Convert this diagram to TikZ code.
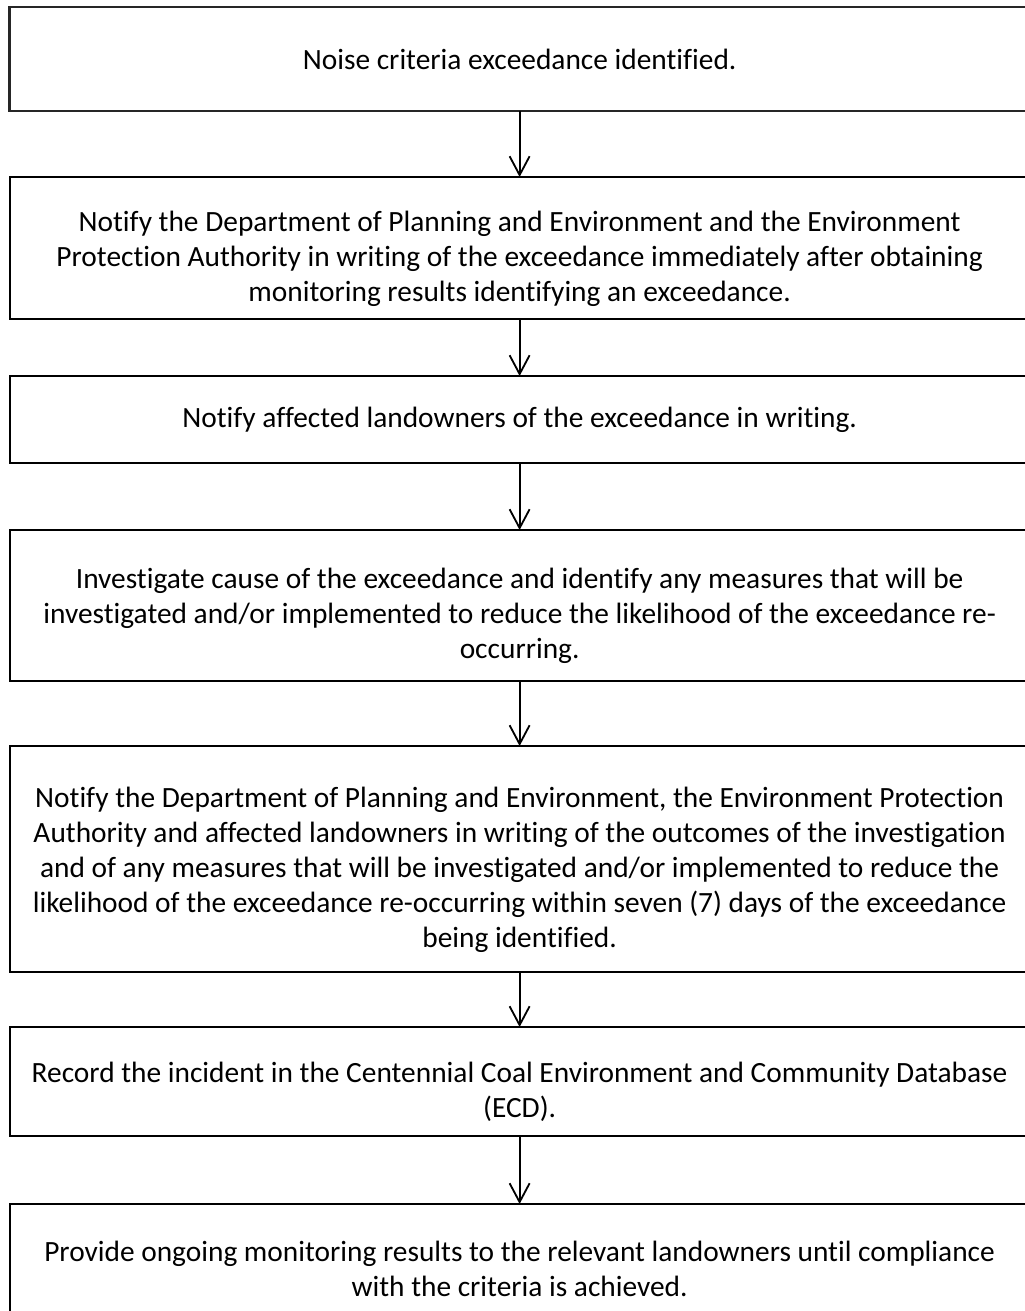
\documentclass[tikz,border=0pt]{standalone}
\usepackage{fontspec}
\setmainfont{Carlito}[Ligatures={NoCommon}]
\usetikzlibrary{arrows.meta,positioning}
\newcommand{\toppad}{\rule{0pt}{1.05cm}}

\begin{document}
\begin{tikzpicture}[
  font=\fontsize{20.9}{24.9}\selectfont,
  stepbox/.style={draw=black, line width=1.3pt, align=center,
    minimum width=25.5cm, inner sep=0pt, outer sep=0pt},
  flow/.style={-{Straight Barb[length=4.7mm, width=5mm]}, line width=1.3pt},
]
  \useasboundingbox (0,0) rectangle (25.6,-32.775);
  \node[stepbox, line width=1.8pt, draw=black!85, minimum height=2.6cm, anchor=north]
    (identified) at (12.99,-0.175) {Noise criteria exceedance identified.};
  \node[stepbox, minimum height=3.55cm, below=1.65cm of identified] (notify-agencies)
    {\toppad Notify the Department of Planning and Environment and the Environment\\
    Protection Authority in writing of the exceedance immediately after obtaining\\
    monitoring results identifying an exceedance.};
  \node[stepbox, minimum height=2.175cm, below=1.425cm of notify-agencies] (notify-owners)
    {Notify affected landowners of the exceedance in writing.};
  \node[stepbox, minimum height=3.775cm, below=1.675cm of notify-owners] (investigate)
    {\toppad Investigate cause of the exceedance and identify any measures that will be\\
    investigated and/or implemented to reduce the likelihood of the exceedance re-\\
    occurring.};
  \node[stepbox, minimum height=5.65cm, below=1.625cm of investigate] (notify-outcomes)
    {\toppad Notify the Department of Planning and Environment, the Environment Protection\\
    Authority and affected landowners in writing of the outcomes of the investigation\\
    and of any measures that will be investigated and/or implemented to reduce the\\
    likelihood of the exceedance re-occurring within seven (7) days of the exceedance\\
    being identified.};
  \node[stepbox, minimum height=2.725cm, below=1.375cm of notify-outcomes] (record)
    {\toppad Record the incident in the Centennial Coal Environment and Community Database\\
    (ECD).};
  \node[stepbox, minimum height=3.25cm, below=1.7cm of record] (ongoing)
    {Provide ongoing monitoring results to the relevant landowners until compliance\\
    with the criteria is achieved.};
  \draw[flow] (identified) -- (notify-agencies);
  \draw[flow] (notify-agencies) -- (notify-owners);
  \draw[flow] (notify-owners) -- (investigate);
  \draw[flow] (investigate) -- (notify-outcomes);
  \draw[flow] (notify-outcomes) -- (record);
  \draw[flow] (record) -- (ongoing);
\end{tikzpicture}
\end{document}
